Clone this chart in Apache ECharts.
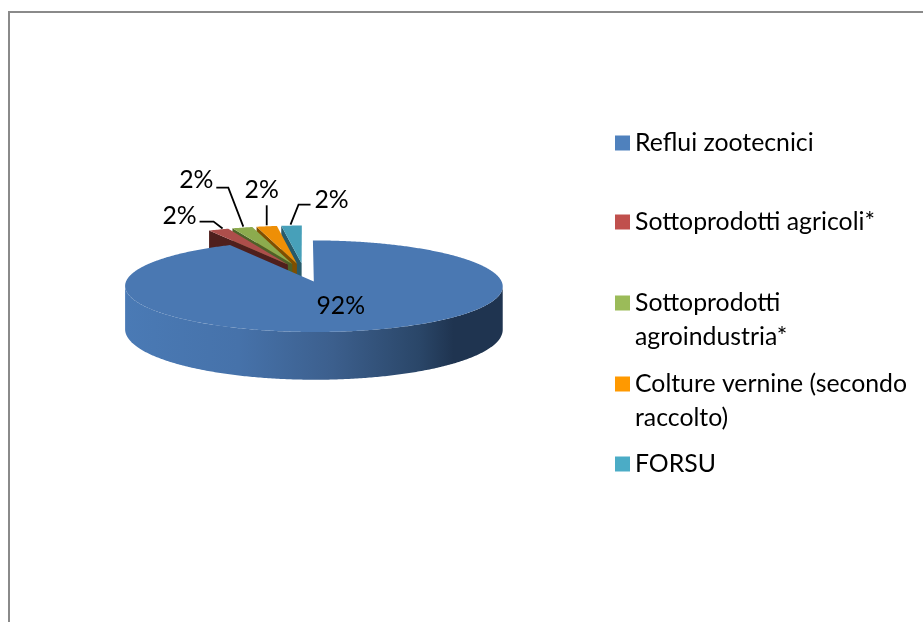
<!DOCTYPE html>
<html><head><meta charset="utf-8">
<style>html,body{margin:0;padding:0;background:#fff}#c{width:923px;height:622px}</style>
<script src="https://cdn.jsdelivr.net/npm/echarts@6/dist/echarts.min.js"></script>
</head><body><div id="c"></div>
<script>
// data
const categories = ['Reflui zootecnici','Sottoprodotti agricoli*','Sottoprodotti agroindustria*','Colture vernine (secondo raccolto)','FORSU'];
const legendLabels = ['Reflui zootecnici','Sottoprodotti agricoli*','Sottoprodotti\nagroindustria*','Colture vernine (secondo\nraccolto)','FORSU'];
const values = [92,2,2,2,2];
// styles
const legendColors = ['#4f81bd','#c0504d','#9bbb59','#ff9900','#4bacc6'];
const topColors = ['#4a78b2','#ad4e4b','#8cab4e','#ee8f06','#47a0b9'];
const wallColors = ['#2a4668','#4f1f1d','#4e6128','#7f4f00','#275a6a'];
const legendTops = [126,205,286,367,447];
// projection layout
const FONT = 'Lato';
const FS = 24.8;
const G = {cx:304, cy:272.5, rx:184, ry:43.5, k:0.1, explode:0.21, depth:42};
const labelLayout = [
  {label:[27,24], leader:null},
  {label:[-39,-14], leader:[[-19,-8],[-5,-8],[4,-1]]},
  {label:[-46,-48], leader:[[-26,-40],[-14,-40],[1,-1]]},
  {label:[-5,-36], leader:[[0,-21],[0,-1]]},
  {label:[40,-26], leader:[[19,-21],[7,-21],[-1,-1]]}
];
const total = values.reduce((a,b)=>a+b,0);
function sliceAngles(i){
  let s=0; for(let j=0;j<i;j++) s+=values[j];
  return [s/total*2*Math.PI,(s+values[i])/total*2*Math.PI];
}
function project(u,v,drop){
  const s=1/(1+G.k*v);
  return [G.cx+G.rx*u*s, G.cy-G.ry*v*s+(drop?G.depth*s:0)];
}
function renderSlice(i,params,api){
  const value=api.value(0);
  const [a0,a1]=sliceAngles(i);
  const mid=(a0+a1)/2;
  const ou=G.explode*Math.sin(mid), ov=G.explode*Math.cos(mid);
  const at=(a,drop)=>project(ou+Math.sin(a),ov+Math.cos(a),drop);
  const apex=project(ou,ov,false), apexD=project(ou,ov,true);
  const arc=(from,to,drop)=>{const n=Math.max(8,Math.ceil((to-from)/0.01));const r=[];
    for(let t=0;t<=n;t++) r.push(at(from+(to-from)*t/n,drop)); return r;};
  const children=[];
  if(i===0){
    // the wall runs between the two horizontal extremes of the rim
    let f=0,t=0,maxX=-Infinity,minX=Infinity;
    for(let a=a0;a<=a1;a+=0.002){const x=at(a,false)[0];
      if(x>maxX){maxX=x;f=a;} if(x<minX){minX=x;t=a;}}
    const wall=arc(f,t,false).concat(arc(f,t,true).reverse());
    children.push({type:'polygon',z2:1,shape:{points:wall},style:{fill:new echarts.graphic.LinearGradient(0,0,1,0,[
      {offset:0,color:'#4a7ab5'},{offset:0.3,color:'#4672aa'},{offset:0.55,color:'#3c5f8d'},{offset:0.78,color:'#2a4668'},{offset:0.87,color:'#1f3450'},{offset:1,color:'#1f3450'}])}});
  } else {
    children.push({type:'polygon',z2:1,shape:{points:[apex,at(a0,false),at(a0,true),apexD]},style:{fill:wallColors[i]}});
  }
  children.push({type:'polygon',z2:2,shape:{points:[apex].concat(arc(a0,a1,false))},style:{fill:topColors[i]}});
  const anchor=i===0?apex:at(mid,false);
  const L=labelLayout[i];
  if(L.leader){
    children.push({type:'polyline',z2:3,shape:{points:L.leader.map(p=>[anchor[0]+p[0],anchor[1]+p[1]])},style:{fill:null,stroke:'#000',lineWidth:1.8}});
  }
  children.push({type:'text',z2:4,x:anchor[0]+L.label[0],y:anchor[1]+L.label[1],style:{text:Math.round(value/total*100)+'%',fontFamily:FONT,fontSize:FS,fill:'#000',align:'center',verticalAlign:'middle'}});
  return {type:'group',children};
}
const zOrder=[6,5,4,3,2];
const chart=echarts.init(document.getElementById('c'),null,{renderer:'canvas'});
chart.setOption({
  animation:false,
  backgroundColor:'#fff',
  graphic:[{type:'rect',z:0,shape:{x:9,y:12,width:1200,height:1200},style:{fill:'none',stroke:'#8a8a8a',lineWidth:2}}],
  legend:categories.map((c,i)=>{
    const two=legendLabels[i].includes('\n');
    return {
      left:615, top:legendTops[i], padding:0, orient:'vertical', selectedMode:false,
      itemWidth:15, itemHeight:two?49:15,
      data:[{name:c,icon:two?'path://M0 0H15V15H0ZM0 49L15 49Z':'rect'}],
      formatter:()=>legendLabels[i],
      textStyle:{fontFamily:FONT,fontSize:FS,color:'#000',lineHeight:34}
    };
  }),
  series:categories.map((c,i)=>({
    type:'custom',name:c,coordinateSystem:'none',silent:true,z:zOrder[i],
    itemStyle:{color:legendColors[i]},
    data:[[values[i]]],
    renderItem:(p,a)=>renderSlice(i,p,a)
  }))
});
</script></body></html>
